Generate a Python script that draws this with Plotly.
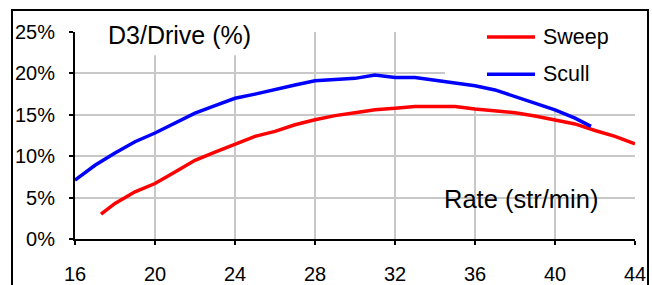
import plotly.graph_objects as go

# Data
rate_sweep = [17.3, 18, 19, 20, 21, 22, 23, 24, 25, 26, 27, 28, 29, 30, 31, 32,
              33, 34, 35, 36, 37, 38, 39, 40, 41, 42, 43, 44]
sweep = [3.0, 4.3, 5.7, 6.7, 8.1, 9.5, 10.5, 11.5, 12.4, 13.0, 13.8, 14.4, 14.9,
         15.25, 15.6, 15.8, 16.0, 16.0, 16.0, 15.7, 15.5, 15.25, 14.85, 14.4,
         13.9, 13.1, 12.4, 11.5]

rate_scull = [16, 17, 18, 19, 20, 21, 22, 23, 24, 25, 26, 27, 28, 29, 30, 31,
              32, 33, 34, 35, 36, 37, 38, 39, 40, 41, 41.8]
scull = [7.1, 8.9, 10.4, 11.75, 12.8, 14.0, 15.2, 16.1, 17.0, 17.5, 18.1, 18.6,
         19.1, 19.3, 19.4, 19.8, 19.5, 19.5, 19.2, 18.8, 18.5, 18.0, 17.2, 16.4,
         15.6, 14.6, 13.6]

x_ticks = [16, 20, 24, 28, 32, 36, 40, 44]
y_ticks = [0, 5, 10, 15, 20, 25]

series_names = ["Sweep", "Scull"]
series_colors = ["#ff0000", "#0000ff"]

FONT = "Liberation Sans, Arial, sans-serif"

fig = go.Figure()
fig.add_trace(go.Scatter(x=rate_sweep, y=sweep, mode="lines", name=series_names[0],
                         line=dict(color=series_colors[0], width=3.5), showlegend=False))
fig.add_trace(go.Scatter(x=rate_scull, y=scull, mode="lines", name=series_names[1],
                         line=dict(color=series_colors[1], width=3.5), showlegend=False))

fig.update_layout(
    width=652, height=285,
    margin=dict(l=75, r=17, t=32, b=46, autoexpand=False),
    paper_bgcolor="white", plot_bgcolor="white",
    font=dict(family=FONT, color="black", size=20),
    showlegend=False,
)

fig.update_xaxes(
    range=[16, 44], tickvals=x_ticks, ticktext=[str(v) for v in x_ticks],
    showgrid=True, gridcolor="#c8c8c8", gridwidth=2,
    showline=True, linecolor="black", linewidth=2,
    ticks="outside", ticklen=4, tickwidth=2, tickcolor="black",
    tickfont=dict(size=20), ticklabelstandoff=12, zeroline=False, automargin=False,
)
fig.update_yaxes(
    range=[0, 25], tickvals=y_ticks, ticktext=[f"{v}%" for v in y_ticks],
    showgrid=True, gridcolor="#c8c8c8", gridwidth=2,
    showline=True, linecolor="black", linewidth=2,
    ticks="outside", ticklen=4, tickwidth=2, tickcolor="black",
    tickfont=dict(size=20), ticklabelstandoff=10, zeroline=False, automargin=False,
)

shapes = [
    # White box behind the title (covers grid)
    dict(type="rect", xref="x", yref="y", x0=17.5, x1=25.35, y0=22.2, y1=26.5,
         line=dict(width=0), fillcolor="white", layer="between"),
    # White box behind the legend (covers grid)
    dict(type="rect", xref="x", yref="y", x0=34.5, x1=45, y0=15.8, y1=26.5,
         line=dict(width=0), fillcolor="white", layer="between"),
]
# Legend samples
legend_y = [24.4, 19.9]
for name, color, ly in zip(series_names, series_colors, legend_y):
    shapes.append(dict(type="line", xref="x", yref="y", x0=36.6, x1=39.0, y0=ly, y1=ly,
                       line=dict(color=color, width=3.5), layer="above"))
fig.update_layout(shapes=shapes)

annotations = [
    dict(text="D3/Drive (%)", x=21.2, y=24.6, xref="x", yref="y", showarrow=False,
         font=dict(size=25), xanchor="center", yanchor="middle"),
    dict(text="Rate (str/min)", x=38.3, y=4.8, xref="x", yref="y", showarrow=False,
         font=dict(size=25.5), xanchor="center", yanchor="middle"),
]
for name, ly in zip(series_names, legend_y):
    annotations.append(dict(text=name, x=39.3, y=ly, xref="x", yref="y", showarrow=False,
                            font=dict(size=21.5), xanchor="left", yanchor="middle"))
fig.update_layout(annotations=annotations)

# Outer chart frame (open at the bottom, as in the cropped reference)
post = (
    "document.body.style.margin='0';document.body.style.overflow='hidden';"
    "var b=document.createElement('div');"
    "b.style.cssText='position:absolute;left:11px;top:9px;width:638px;height:300px;"
    "border:2px solid black;border-bottom:none;box-sizing:border-box;pointer-events:none;';"
    "document.body.appendChild(b);"
)
fig.write_html("out.html", config={"displayModeBar": False}, post_script=post)
